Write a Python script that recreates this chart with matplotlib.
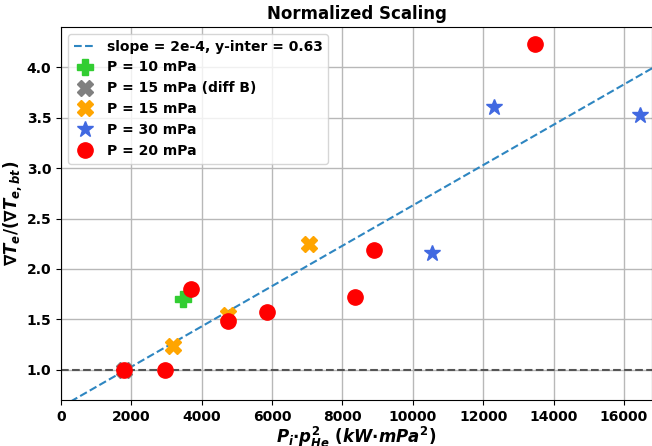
import numpy as np
import matplotlib.pyplot as plt

plt.rcParams['mathtext.fontset'] = 'custom'
plt.rcParams['mathtext.it'] = 'DejaVu Sans:bold:italic'
plt.rcParams['mathtext.rm'] = 'DejaVu Sans:bold'
plt.rcParams['mathtext.bf'] = 'DejaVu Sans:bold'

# data
x_10 = [3480]
y_10 = [1.70]
x_15b = [1790]
y_15b = [1.00]
x_15 = [3175, 4760, 7045]
y_15 = [1.24, 1.54, 2.25]
x_30 = [10550, 12315, 16470]
y_30 = [2.16, 3.61, 3.53]
x_20 = [1800, 2958, 3697, 4760, 5850, 8350, 8900, 13470]
y_20 = [1.00, 1.00, 1.80, 1.486, 1.57, 1.724, 2.185, 4.228]

slope = 2e-4
inter = 0.63

fig = plt.figure(figsize=(6.52, 4.46), dpi=100)
ax = fig.add_axes([61/652, 46/446, 591/652, 373/446])

xl = np.array([0, 17000])
ax.plot(xl, slope*xl + inter, '--', color='#2e86c1', lw=1.5, label='slope = 2e-4, y-inter = 0.63', zorder=2)
ax.axhline(1.0, color='#555555', ls='--', lw=1.5, zorder=2)

ax.plot(x_10, y_10, 'P', color='limegreen', ms=11, ls='none', label='P = 10 mPa', zorder=3)
ax.plot(x_15b, y_15b, 'X', color='gray', ms=11, ls='none', label='P = 15 mPa (diff B)', zorder=3)
ax.plot(x_15, y_15, 'X', color='orange', ms=11, ls='none', label='P = 15 mPa', zorder=3)
ax.plot(x_30, y_30, '*', color='royalblue', ms=12, ls='none', label='P = 30 mPa', zorder=3)
ax.plot(x_20, y_20, 'o', color='red', ms=11, ls='none', label='P = 20 mPa', zorder=3)

ax.set_xlim(0, 16800)
ax.set_ylim(0.7, 4.4)
ax.grid(True, color='#b8b8b8', lw=1)
ax.set_axisbelow(True)

ax.set_title('Normalized Scaling', fontweight='bold', fontsize=12)
ax.set_xlabel(r'$P_i{\cdot}p_{He}^2\ (kW{\cdot}mPa^2)$', fontsize=12, labelpad=1)
ax.set_ylabel(r'$\nabla T_e/(\nabla T_{e,bt})$', fontsize=12, labelpad=2)
for lab in ax.get_xticklabels() + ax.get_yticklabels():
    lab.set_fontweight('bold')
ax.tick_params(labelsize=10)

leg = ax.legend(loc='upper left', prop={'weight': 'bold', 'size': 10},
                handlelength=1.6, borderaxespad=0.5)

fig.savefig('out.png', dpi=100)
